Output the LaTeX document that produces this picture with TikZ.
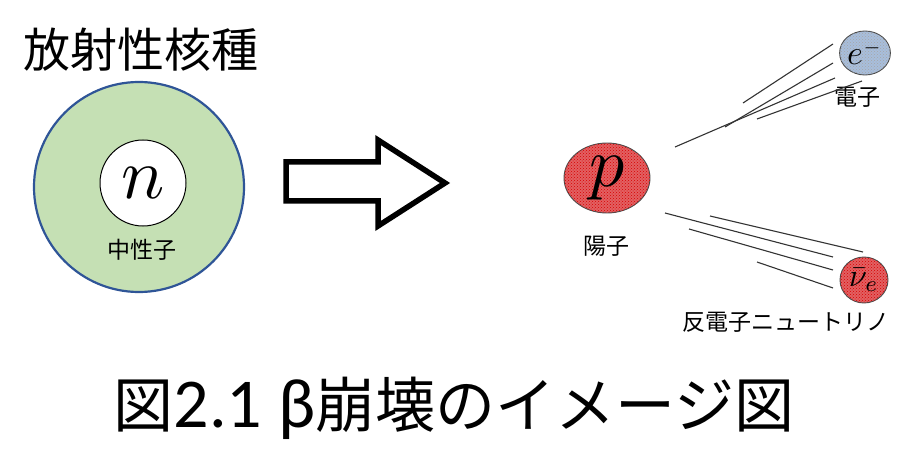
\documentclass[tikz,border=0pt]{standalone}
\usepackage{fontspec}
\newfontfamily\jp{Noto Sans CJK JP}
\newfontfamily\lat{Carlito}
\usetikzlibrary{patterns,shapes.geometric}
\definecolor{shell}{RGB}{197,224,180}
\definecolor{rim}{RGB}{47,85,151}
\definecolor{protonred}{RGB}{226,96,98}
\definecolor{electronblue}{RGB}{168,190,220}
\begin{document}
\begin{tikzpicture}[x=1pt,y=-1pt,
  tag/.style={font=\jp\fontsize{23}{23}\selectfont, inner sep=0pt},
  particle/.style={ellipse, draw=black!70, line width=0.9pt, inner sep=0pt},
  streak/.style={draw=black!80, line width=1.1pt},
]
\useasboundingbox (0,0) rectangle (910,449);

% heading
\node[anchor=west, font=\jp\fontsize{47}{47}\selectfont, inner sep=0pt] (title) at (23,50) {放射性核種};

% radioactive nucleus with its neutron
\node[circle, minimum size=210pt, fill=shell, draw=rim, line width=2.2pt] (nucleus) at (139,187) {};
\node[circle, minimum size=86pt, fill=white, draw=black, line width=1pt, inner sep=0pt] (neutron) at (143,183) {\scalebox{7.2}{$n$}};
\node[tag] (neutronlabel) at (142,250) {中性子};

% block arrow
\draw[line width=5.5pt, line join=miter, fill=white] (286,162) -- (378,162) -- (378,140) -- (445,183) -- (378,226) -- (378,201) -- (286,201) -- cycle;

% decay products
\node[particle, minimum width=86pt, minimum height=70pt, fill=protonred,
      postaction={pattern=crosshatch dots, pattern color=red!85!black}] (proton) at (607,178) {\scalebox{7}{$p$}};
\node[tag] (protonlabel) at (606,246) {陽子};

\node[particle, minimum width=46pt, minimum height=44pt, fill=electronblue,
      postaction={pattern=crosshatch dots, pattern color=black!35}] (electron) at (865,53) {\scalebox{3.4}{$e^{\scriptscriptstyle -}$}};
\node[tag] (electronlabel) at (857,97) {電子};

\node[particle, minimum width=48pt, minimum height=46pt, fill=protonred,
      postaction={pattern=crosshatch dots, pattern color=red!85!black}] (antineutrino) at (864,280) {\scalebox{3.2}{$\bar{\nu}_{e}$}};
\node[tag, anchor=west] (antineutrinolabel) at (682,322) {反電子ニュートリノ};

% motion streaks of the electron
\draw[streak] (675,147) -- (835,78);
\draw[streak] (743,103) -- (833,44);
\draw[streak] (725,127) -- (833,63);
\draw[streak] (757,119) -- (862,81);

% motion streaks of the antineutrino
\draw[streak] (665,213) -- (833,257);
\draw[streak] (710,216) -- (863,252);
\draw[streak] (689,229) -- (833,270);
\draw[streak] (757,262) -- (833,288);

% caption
\node[inner sep=0pt] (caption) at (454,408) {\jp\fontsize{60}{60}\selectfont 図{\lat\fontsize{70}{70}\selectfont 2.1 β}崩壊のイメージ図};
\end{tikzpicture}
\end{document}
